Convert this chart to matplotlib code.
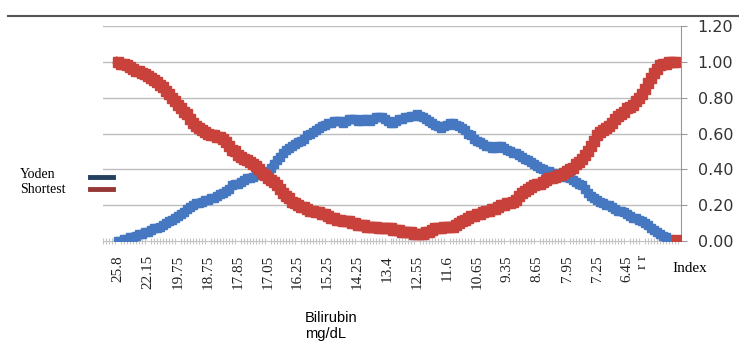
import matplotlib.pyplot as plt
from matplotlib.lines import Line2D
import numpy as np

# Shortest-distance and Youden index across bilirubin cut-off points
shortest = [
    1.00, 0.99, 0.99, 0.98, 0.97, 0.96, 0.95, 0.95, 0.94, 0.93,
    0.92, 0.91, 0.90, 0.89, 0.87, 0.86, 0.84, 0.82, 0.80, 0.78,
    0.76, 0.74, 0.72, 0.71, 0.68, 0.66, 0.64, 0.63, 0.62, 0.61,
    0.60, 0.59, 0.59, 0.58, 0.58, 0.57, 0.55, 0.53, 0.51, 0.50,
    0.48, 0.47, 0.46, 0.45, 0.44, 0.43, 0.42, 0.40, 0.38, 0.37,
    0.35, 0.34, 0.33, 0.31, 0.29, 0.27, 0.25, 0.24, 0.22, 0.21,
    0.20, 0.19, 0.19, 0.18, 0.17, 0.17, 0.16, 0.16, 0.15, 0.15,
    0.14, 0.13, 0.13, 0.12, 0.12, 0.11, 0.11, 0.11, 0.10, 0.10,
    0.09, 0.09, 0.09, 0.08, 0.08, 0.08, 0.08, 0.07, 0.07, 0.07,
    0.07, 0.07, 0.06, 0.06, 0.06, 0.05, 0.05, 0.05, 0.05, 0.04,
    0.04, 0.04, 0.04, 0.05, 0.05, 0.06, 0.07, 0.07, 0.07, 0.08,
    0.08, 0.08, 0.08, 0.09, 0.10, 0.11, 0.12, 0.13, 0.14, 0.14,
    0.15, 0.15, 0.16, 0.17, 0.17, 0.18, 0.18, 0.19, 0.20, 0.20,
    0.21, 0.21, 0.22, 0.23, 0.25, 0.27, 0.28, 0.29, 0.30, 0.31,
    0.32, 0.32, 0.33, 0.34, 0.35, 0.35, 0.36, 0.37, 0.37, 0.38,
    0.39, 0.40, 0.41, 0.43, 0.44, 0.46, 0.48, 0.50, 0.53, 0.56,
    0.59, 0.61, 0.62, 0.63, 0.64, 0.66, 0.68, 0.70, 0.71, 0.72,
    0.74, 0.75, 0.76, 0.78, 0.80, 0.82, 0.85, 0.88, 0.91, 0.94,
    0.96, 0.98, 0.99, 0.99, 1.00, 1.00, 1.00, 0.00,
]
youden = [
    0.00, 0.00, 0.01, 0.01, 0.02, 0.02, 0.03, 0.04, 0.04, 0.05,
    0.05, 0.06, 0.07, 0.07, 0.08, 0.09, 0.10, 0.11, 0.12, 0.13,
    0.14, 0.15, 0.16, 0.18, 0.19, 0.20, 0.21, 0.21, 0.22, 0.23,
    0.23, 0.24, 0.24, 0.25, 0.26, 0.27, 0.28, 0.29, 0.31, 0.32,
    0.32, 0.33, 0.34, 0.35, 0.35, 0.36, 0.37, 0.37, 0.38, 0.38,
    0.39, 0.41, 0.43, 0.45, 0.47, 0.49, 0.51, 0.52, 0.53, 0.54,
    0.55, 0.56, 0.57, 0.59, 0.60, 0.61, 0.62, 0.63, 0.64, 0.65,
    0.66, 0.66, 0.67, 0.67, 0.67, 0.66, 0.67, 0.68, 0.68, 0.68,
    0.67, 0.67, 0.68, 0.68, 0.67, 0.68, 0.69, 0.69, 0.69, 0.68,
    0.67, 0.66, 0.66, 0.67, 0.68, 0.68, 0.69, 0.69, 0.70, 0.70,
    0.71, 0.70, 0.69, 0.68, 0.67, 0.66, 0.65, 0.64, 0.63, 0.64,
    0.65, 0.66, 0.66, 0.65, 0.64, 0.63, 0.62, 0.60, 0.59, 0.57,
    0.56, 0.55, 0.54, 0.53, 0.53, 0.52, 0.52, 0.53, 0.53, 0.52,
    0.51, 0.50, 0.49, 0.49, 0.48, 0.47, 0.46, 0.45, 0.44, 0.43,
    0.42, 0.41, 0.40, 0.39, 0.39, 0.38, 0.38, 0.37, 0.37, 0.36,
    0.36, 0.35, 0.34, 0.33, 0.32, 0.31, 0.29, 0.27, 0.25, 0.24,
    0.23, 0.22, 0.21, 0.20, 0.20, 0.19, 0.18, 0.17, 0.17, 0.16,
    0.15, 0.14, 0.13, 0.13, 0.12, 0.11, 0.10, 0.09, 0.07, 0.06,
    0.05, 0.04, 0.03, 0.02, 0.01, 0.00, 0.00, 0.00,
]
cutoff_labels = ['25.8', '22.15', '19.75', '18.75', '17.85', '17.05', '16.25',
                 '15.25', '14.25', '13.4', '12.55', '11.6', '10.65', '9.35',
                 '8.65', '7.95', '7.25', '6.45', 'r r']
label_pos = list(range(0, 180, 10)) + [175]
y_ticks = [0.0, 0.2, 0.4, 0.6, 0.8, 1.0, 1.2]

blue = '#4677C1'
red = '#C8413B'
grid_col = '#BDBDBD'

W, H = 739, 342
fig = plt.figure(figsize=(W / 100, H / 100), dpi=100)
ax = fig.add_axes([103 / W, 1 - 241 / H, (681 - 103) / W, (241 - 26) / H])

x = np.arange(len(youden))
ax.plot(x, youden, color=blue, lw=5, marker='s', ms=6, mec=blue, mfc=blue,
        zorder=3)
ax.plot(x[:-1], shortest[:-1], color=red, lw=6, marker='s', ms=7.5, mec=red,
        mfc=red, zorder=4)
ax.plot(x[-1:], shortest[-1:], ls='none', marker='s', ms=8.5, color=red, zorder=5)

ax.set_xlim(-5, 188)
ax.set_ylim(0, 1.2)

ax.yaxis.tick_right()
ax.set_yticks(y_ticks)
ax.set_yticklabels([f'{v:.2f}' for v in y_ticks], fontsize=11.5,
                   family='DejaVu Sans', color='#333333')
ax.tick_params(axis='y', length=4, color='#999999', pad=8)
for v in y_ticks[1:]:
    ax.axhline(v, color=grid_col, lw=1, zorder=1)

ax.set_xticks(np.arange(-5, 188), minor=True)
ax.set_xticks(label_pos)
ax.set_xticklabels(cutoff_labels, rotation=90, fontsize=11,
                   family='Liberation Serif', color='#222222')
ax.tick_params(axis='x', which='major', length=0, pad=10)
ax.tick_params(axis='x', which='minor', length=4.5, direction='inout',
               color='#C4C4C4', width=0.8)

for side in ['left', 'top']:
    ax.spines[side].set_visible(False)
ax.spines['right'].set_color('#999999')
ax.spines['bottom'].set_color('#C4C4C4')

# legend drawn by hand beside the plot
fig.text(20 / W, 1 - 175 / H, 'Yoden', family='Liberation Serif', fontsize=10,
         va='center', ha='left')
fig.text(20 / W, 1 - 189 / H, 'Shortest', family='Liberation Serif', fontsize=10,
         va='center', ha='left')
fig.add_artist(Line2D([90 / W, 113 / W], [1 - 177 / H, 1 - 177 / H],
                      color='#243F60', lw=3.5))
fig.add_artist(Line2D([90 / W, 113 / W], [1 - 189 / H, 1 - 189 / H],
                      color='#953735', lw=3.5))

fig.text(672 / W, 1 - 269 / H, 'Index', family='Liberation Serif', fontsize=11,
         va='center', ha='left')
fig.text(305 / W, 1 - 318 / H, 'Bilirubin', family='Liberation Sans', fontsize=10.5,
         va='center', ha='left')
fig.text(305 / W, 1 - 334 / H, 'mg/dL', family='Liberation Sans', fontsize=10.5,
         va='center', ha='left')

fig.add_artist(Line2D([8 / W, 1.0], [1 - 16 / H, 1 - 16 / H], color='#555555', lw=1.5))

fig.savefig('out.png', dpi=100)
